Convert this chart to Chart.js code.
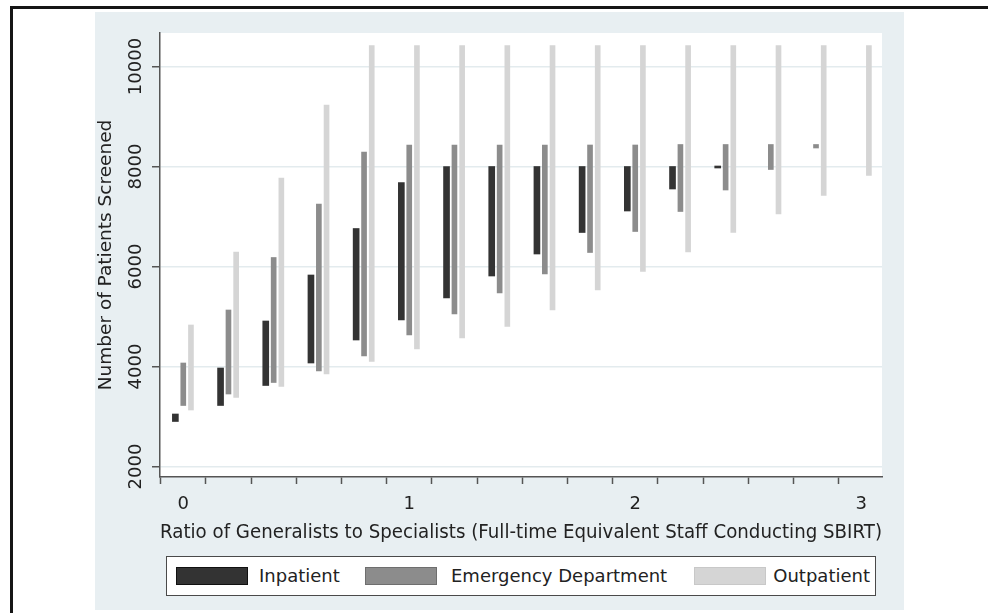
<!DOCTYPE html>
<html>
<head>
<meta charset="utf-8">
<script src="https://cdn.jsdelivr.net/npm/chart.js@4/dist/chart.umd.min.js"></script>
<style>
  html, body { margin:0; padding:0; background:#fff; }
  #wrap { position:relative; width:988px; height:613px; overflow:hidden; background:#fff; }
  #frame { position:absolute; left:10px; top:6px; width:1000px; height:640px; border-top:3px solid #151515; border-left:3px solid #151515; }
  #panel { position:absolute; left:95px; top:12px; width:809px; height:598px; background:#e8eff2; }
  #c { position:absolute; left:0; top:0; }
  #legend { position:absolute; left:166px; top:556px; width:708px; height:38px; border:1.5px solid #4a4a4a; background:#fff;
            font-family:"DejaVu Sans", sans-serif; font-size:18px; color:#222; }
  .sw { position:absolute; top:10px; width:72px; height:18px; box-sizing:border-box; border:1px solid #222; }
  .lt { position:absolute; top:8px; line-height:22px; white-space:nowrap; }
</style>
</head>
<body>
<div id="wrap">
  <div id="frame"></div>
  <div id="panel"></div>
  <canvas id="c" width="988" height="613"></canvas>
  <div id="legend"></div>
</div>
<script>
// ---- data ----
const ratios = [0, 0.2, 0.4, 0.6, 0.8, 1.0, 1.2, 1.4, 1.6, 1.8, 2.0, 2.2, 2.4, 2.6, 2.8, 3.0];
const seriesNames = ["Inpatient", "Emergency Department", "Outpatient"];
const inpatientLow  = [2900, 3220, 3620, 4070, 4530, 4930, 5370, 5810, 6250, 6680, 7110, 7550, 7970, null, null, null];
const inpatientHigh = [3050, 3970, 4910, 5830, 6760, 7680, 8000, 8000, 8000, 8000, 8000, 8000, 8010, null, null, null];
const edLow  = [3220, 3450, 3680, 3910, 4210, 4630, 5050, 5470, 5850, 6280, 6700, 7100, 7530, 7940, 8370, null];
const edHigh = [4070, 5130, 6180, 7250, 8290, 8430, 8430, 8430, 8430, 8430, 8430, 8440, 8440, 8440, 8440, null];
const opLow  = [3130, 3380, 3600, 3850, 4100, 4350, 4570, 4800, 5130, 5530, 5900, 6290, 6680, 7050, 7420, 7820];
const opHigh = [4830, 6290, 7770, 9230, 10420, 10420, 10420, 10420, 10420, 10420, 10420, 10420, 10420, 10420, 10420, 10420];
const xTickValues = [0, 0.2, 0.4, 0.6, 0.8, 1, 1.2, 1.4, 1.6, 1.8, 2, 2.2, 2.4, 2.6, 2.8, 3];
const yTickValues = [2000, 4000, 6000, 8000, 10000];
const xTitle = "Ratio of Generalists to Specialists (Full-time Equivalent Staff Conducting SBIRT)";
const yTitle = "Number of Patients Screened";

// ---- styling ----
const colors = ["#333333", "#8c8c8c", "#d5d5d5"];
const borders = ["#1e1e1e", "#7a7a7a", "#cdcdcd"];
const dodge = [-0.035, 0, 0.034];
const thickness = [6, 5, 5];
const FONT = "'DejaVu Sans', sans-serif";

function buildPoints(lo, hi, off) {
  const pts = [];
  ratios.forEach((r, i) => {
    if (lo[i] !== null && hi[i] !== null) pts.push({ x: r + off, y: [lo[i], hi[i]] });
  });
  return pts;
}

const lows = [inpatientLow, edLow, opLow];
const highs = [inpatientHigh, edHigh, opHigh];

const datasets = seriesNames.map((name, k) => ({
  label: name,
  data: buildPoints(lows[k], highs[k], dodge[k]),
  backgroundColor: colors[k],
  borderColor: borders[k],
  borderWidth: 0,
  borderSkipped: false,
  barThickness: thickness[k],
  grouped: false
}));

const plotBg = {
  id: 'plotBg',
  beforeDraw(chart) {
    const { ctx, chartArea: a } = chart;
    ctx.save();
    ctx.fillStyle = '#ffffff';
    ctx.fillRect(a.left, a.top, a.right - a.left, a.bottom - a.top);
    ctx.restore();
  }
};

new Chart(document.getElementById('c'), {
  type: 'bar',
  data: { datasets },
  plugins: [plotBg],
  options: {
    responsive: false,
    animation: false,
    layout: { padding: { left: 95, top: 33, right: 106, bottom: 69 } },
    plugins: { legend: { display: false }, tooltip: { enabled: false } },
    scales: {
      x: {
        type: 'linear',
        offset: false,
        min: -0.103,
        max: 3.092,
        afterBuildTicks(scale) { scale.ticks = xTickValues.map(v => ({ value: v })); },
        afterFit(scale) { scale.height = 67; },
        ticks: {
          autoSkip: false,
          maxRotation: 0,
          padding: 10,
          color: '#222',
          font: { family: FONT, size: 18 },
          callback(v) { return Math.abs(v - Math.round(v)) < 1e-6 ? String(Math.round(v)) : ''; }
        },
        grid: { drawOnChartArea: false, drawTicks: true, tickLength: 7, tickColor: '#555', tickWidth: 1.5 },
        border: { display: true, color: '#555', width: 1.5 },
        title: { display: true, text: xTitle, color: '#222', font: { family: FONT, size: 19 }, padding: 0 }
      },
      y: {
        type: 'linear',
        min: 1790,
        max: 10670,
        afterBuildTicks(scale) { scale.ticks = yTickValues.map(v => ({ value: v })); },
        afterFit(scale) { scale.width = 65; },
        ticks: {
          minRotation: 90,
          maxRotation: 90,
          crossAlign: 'center',
          padding: -13,
          color: '#222',
          font: { family: FONT, size: 18 },
          callback(v) { return String(v); }
        },
        grid: { color: '#e3ebee', lineWidth: 1.5, drawTicks: true, tickLength: 8, tickColor: '#555', tickWidth: 1.5 },
        border: { display: true, color: '#555', width: 1.5 },
        title: { display: true, text: yTitle, color: '#222', font: { family: FONT, size: 18.5 }, padding: 0 }
      }
    }
  }
});

// legend (HTML, positioned like the reference)
const legend = document.getElementById('legend');
const swLeft = [9, 198, 527];
const txtPos = [{ left: 92 }, { left: 284 }, { right: 5 }];
seriesNames.forEach((name, k) => {
  const sw = document.createElement('div');
  sw.className = 'sw';
  sw.style.left = swLeft[k] + 'px';
  sw.style.background = colors[k];
  sw.style.borderColor = k === 0 ? '#111' : (k === 1 ? '#6e6e6e' : '#c8c8c8');
  legend.appendChild(sw);
  const t = document.createElement('div');
  t.className = 'lt';
  t.textContent = name;
  if (txtPos[k].left !== undefined) t.style.left = txtPos[k].left + 'px';
  else t.style.right = txtPos[k].right + 'px';
  legend.appendChild(t);
});
</script>
</body>
</html>
